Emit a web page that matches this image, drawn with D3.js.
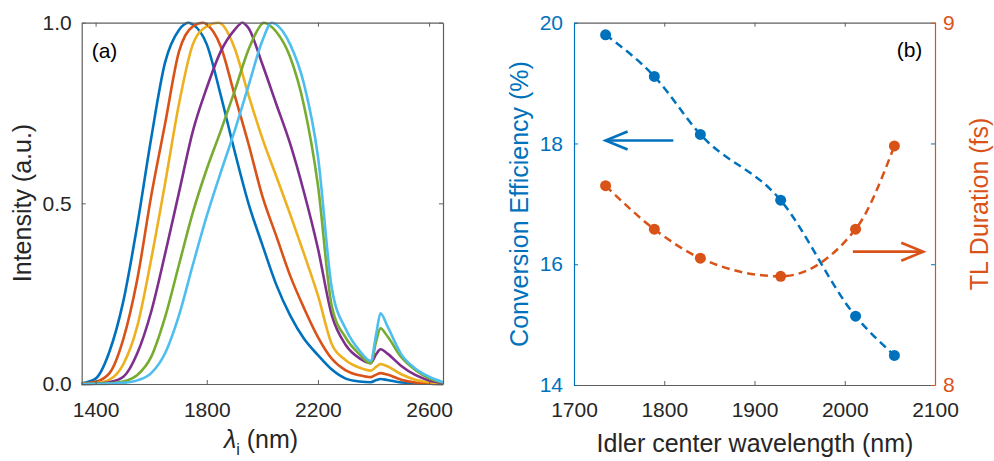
<!DOCTYPE html>
<meta charset="utf-8">
<script src="https://d3js.org/d3.v7.min.js"></script>
<style>
  body { margin: 0; background: #fff; }
  text { font-family: "Liberation Sans", Arial, sans-serif; }
</style>
<div id="chart"></div>
<script>

// ---- panel (a): idler spectra ----
var wavelengths = [1350, 1400, 1450, 1500, 1550, 1600, 1650, 1700, 1750, 1800, 1850, 1900, 1950, 2000,
    2050, 2100, 2150, 2200, 2250, 2300, 2350, 2390, 2410, 2425, 2450, 2500, 2550, 2600, 2650];
var peakWavelengths = [1734, 1788, 1842, 1928, 2004, 2034];

var idler1735 = [0.002, 0.015, 0.09, 0.23, 0.44, 0.68, 0.89, 0.98, 0.995, 0.94, 0.80, 0.645, 0.50, 0.385,
    0.275, 0.19, 0.125, 0.08, 0.04, 0.015, 0.007, 0.005, 0.011, 0.014, 0.011, 0.004, 0.002, 0.001, 0];
var idler1790 = [0.001, 0.006, 0.03, 0.125, 0.29, 0.52, 0.72, 0.92, 0.99, 0.995, 0.935, 0.80, 0.665, 0.52,
    0.41, 0.30, 0.21, 0.13, 0.07, 0.038, 0.024, 0.019, 0.026, 0.03, 0.026, 0.012, 0.004, 0.001, 0];
var idler1840 = [0, 0.002, 0.012, 0.055, 0.16, 0.345, 0.555, 0.775, 0.94, 0.99, 0.998, 0.93, 0.80, 0.68,
    0.575, 0.47, 0.36, 0.245, 0.11, 0.066, 0.045, 0.037, 0.048, 0.055, 0.049, 0.027, 0.012, 0.005, 0.001];
var idler1928 = [0, 0.001, 0.005, 0.02, 0.085, 0.2, 0.36, 0.53, 0.70, 0.82, 0.92, 0.98, 0.985, 0.885,
    0.775, 0.665, 0.53, 0.375, 0.19, 0.108, 0.071, 0.058, 0.083, 0.096, 0.084, 0.05, 0.025, 0.01, 0.003];
var idler2012 = [0, 0.001, 0.002, 0.007, 0.025, 0.075, 0.185, 0.33, 0.475, 0.595, 0.70, 0.81, 0.925, 0.998,
    0.975, 0.905, 0.77, 0.55, 0.215, 0.128, 0.082, 0.057, 0.12, 0.154, 0.132, 0.074, 0.039, 0.016, 0.004];
var idler2055 = [0, 0, 0.001, 0.003, 0.01, 0.03, 0.085, 0.19, 0.33, 0.465, 0.585, 0.70, 0.825, 0.95,
    0.995, 0.94, 0.83, 0.63, 0.265, 0.152, 0.092, 0.064, 0.14, 0.196, 0.16, 0.082, 0.043, 0.02, 0.005];

var spectraX = [1400, 1800, 2200, 2600];
var spectraY = [0, 0.5, 1];

// ---- panel (b): efficiency and TL duration ----
var idlerCenters = [1735, 1789, 1840, 1929, 2012, 2055];
var efficiency = [19.8, 19.11, 18.15, 17.06, 15.14, 14.49];
var tlDuration = [8.55, 8.43, 8.35, 8.30, 8.43, 8.66];

var centerTicks = [1700, 1800, 1900, 2000, 2100];
var effTicks = [14, 16, 18, 20];
var tlTicks = [8, 9];

var colors = ["#0072BD", "#D95319", "#EDB120", "#7E2F8E", "#77AC30", "#4DBEEE"];
var ink = "#262626", boxColor = "#5f5f5f";

var svg = d3.select("#chart").append("svg")
    .attr("width", 994)
    .attr("height", 461);

function styleAxis(g, color, size) {
    g.attr("font-family", null).attr("font-size", null).attr("color", color);
    g.selectAll("text").attr("font-size", size).attr("fill", color);
    g.select(".domain").attr("stroke-width", 1.2);
}

// ================= panel (a) =================
var A = { left: 81.7, top: 22.7, width: 361.3, height: 361.3 };
var gA = svg.append("g").attr("transform", "translate(" + A.left + "," + A.top + ")");

var xA = d3.scaleLinear().domain([1350, 2650]).range([0, A.width]);
var yA = d3.scaleLinear().domain([0, 1]).range([A.height, 0]);

var spectra = [idler1735, idler1790, idler1840, idler1928, idler2012, idler2055];
var line = d3.line()
    .x(function (d) { return xA(d[0]); })
    .y(function (d) { return yA(d[1]); })
    .curve(d3.curveMonotoneX);

spectra.forEach(function (vals, i) {
    var pts = wavelengths.map(function (w, j) { return [w, vals[j]]; });
    pts.push([peakWavelengths[i], 1]);
    pts.sort(function (a, b) { return a[0] - b[0]; });
    gA.append("path")
        .datum(pts)
        .attr("fill", "none")
        .attr("stroke", colors[i])
        .attr("stroke-width", 2.6)
        .attr("d", line);
});

gA.append("g").attr("transform", "translate(0," + A.height + ")")
    .call(d3.axisBottom(xA).tickValues(spectraX).tickSize(-4).tickSizeOuter(0).tickPadding(17.8).tickFormat(d3.format("d")))
    .call(styleAxis, boxColor, 21);
gA.append("g")
    .call(d3.axisTop(xA).tickValues(spectraX).tickSize(-4).tickSizeOuter(0).tickFormat(""))
    .call(styleAxis, boxColor, 21);
gA.append("g")
    .call(d3.axisLeft(yA).tickValues(spectraY).tickSize(-4).tickSizeOuter(0).tickPadding(10).tickFormat(d3.format(".1f")))
    .call(styleAxis, boxColor, 21);
gA.append("g").attr("transform", "translate(" + A.width + ",0)")
    .call(d3.axisRight(yA).tickValues(spectraY).tickSize(-4).tickSizeOuter(0).tickFormat(""))
    .call(styleAxis, boxColor, 21);
gA.selectAll("text").attr("fill", ink);

gA.append("text")
    .attr("x", 10).attr("y", 35)
    .attr("font-size", 21).attr("fill", "#000")
    .text("(a)");

svg.append("text")
    .attr("transform", "translate(31,203) rotate(-90)")
    .attr("text-anchor", "middle")
    .attr("font-size", 25).attr("fill", ink)
    .text("Intensity (a.u.)");

var xlabA = svg.append("text")
    .attr("x", 261).attr("y", 448)
    .attr("text-anchor", "middle")
    .attr("font-size", 25).attr("fill", ink);
xlabA.append("tspan").attr("font-style", "italic").text("λ");
xlabA.append("tspan").attr("font-size", 16).attr("dy", 7).text("i");
xlabA.append("tspan").attr("dy", -7).text(" (nm)");

// ================= panel (b) =================
var B = { left: 574, top: 22.7, width: 361, height: 362.3 };
var gB = svg.append("g").attr("transform", "translate(" + B.left + "," + B.top + ")");

var xB = d3.scaleLinear().domain([1700, 2100]).range([0, B.width]);
var yEff = d3.scaleLinear().domain([14, 20]).range([B.height, 0]);
var yTL = d3.scaleLinear().domain([8, 9]).range([B.height, 0]);

gB.append("g").attr("transform", "translate(0," + B.height + ")")
    .call(d3.axisBottom(xB).tickValues(centerTicks).tickSize(-4).tickSizeOuter(0).tickPadding(16.8).tickFormat(d3.format("d")))
    .call(styleAxis, boxColor, 21);
gB.append("g")
    .call(d3.axisTop(xB).tickValues(centerTicks).tickSize(-4).tickSizeOuter(0).tickFormat(""))
    .call(styleAxis, boxColor, 21);
gB.selectAll("text").attr("fill", ink);
gB.append("g")
    .call(d3.axisLeft(yEff).tickValues(effTicks).tickSize(-4).tickSizeOuter(0).tickPadding(11).tickFormat(d3.format("d")))
    .call(styleAxis, colors[0], 21);
// mirrored efficiency ticks on the right edge
gB.append("g").attr("transform", "translate(" + B.width + ",0)")
    .call(d3.axisLeft(yEff).tickValues([16, 18]).tickSize(4).tickSizeOuter(0).tickFormat(""))
    .call(function (g) { g.select(".domain").remove(); g.attr("color", colors[0]); });
gB.append("g").attr("transform", "translate(" + B.width + ",0)")
    .call(d3.axisRight(yTL).tickValues(tlTicks).tickSize(-4).tickSizeOuter(0).tickPadding(8).tickFormat(d3.format("d")))
    .call(styleAxis, colors[1], 21);

var effLine = d3.line()
    .x(function (d, i) { return xB(idlerCenters[i]); })
    .y(function (d) { return yEff(d); })
    .curve(d3.curveMonotoneX);
var tlLine = d3.line()
    .x(function (d, i) { return xB(idlerCenters[i]); })
    .y(function (d) { return yTL(d); })
    .curve(d3.curveMonotoneX);

gB.append("path").datum(efficiency)
    .attr("fill", "none").attr("stroke", colors[0])
    .attr("stroke-width", 2.5).attr("stroke-dasharray", "8,5")
    .attr("d", effLine);
gB.append("path").datum(tlDuration)
    .attr("fill", "none").attr("stroke", colors[1])
    .attr("stroke-width", 2.5).attr("stroke-dasharray", "8,5")
    .attr("d", tlLine);

gB.selectAll("circle.eff").data(efficiency).enter().append("circle")
    .attr("class", "eff")
    .attr("cx", function (d, i) { return xB(idlerCenters[i]); })
    .attr("cy", function (d) { return yEff(d); })
    .attr("r", 5.5).attr("fill", colors[0]);
gB.selectAll("circle.tl").data(tlDuration).enter().append("circle")
    .attr("class", "tl")
    .attr("cx", function (d, i) { return xB(idlerCenters[i]); })
    .attr("cy", function (d) { return yTL(d); })
    .attr("r", 5.5).attr("fill", colors[1]);

// arrows pointing to the axis each series belongs to
function arrow(x0, x1, y, color) {
    var dir = x1 > x0 ? 1 : -1;
    gB.append("line")
        .attr("x1", x0).attr("x2", x1 - dir * 1.5).attr("y1", y).attr("y2", y)
        .attr("stroke", color).attr("stroke-width", 2.6);
    gB.append("path")
        .attr("d", "M" + (x1 - dir * 22) + "," + (y - 9) + "L" + x1 + "," + y + "L" + (x1 - dir * 22) + "," + (y + 9))
        .attr("fill", "none").attr("stroke", color).attr("stroke-width", 2.6)
        .attr("stroke-linejoin", "miter");
}
arrow(xB(1810), xB(1735), yEff(18.05), colors[0]);
arrow(xB(2009), xB(2087), yTL(8.368), colors[1]);

gB.append("text")
    .attr("x", 322.7).attr("y", 34)
    .attr("font-size", 21).attr("fill", "#000")
    .text("(b)");

svg.append("text")
    .attr("transform", "translate(528,204) rotate(-90)")
    .attr("text-anchor", "middle")
    .attr("font-size", 25).attr("fill", colors[0])
    .text("Conversion Efficiency (%)");
svg.append("text")
    .attr("transform", "translate(988,204) rotate(-90)")
    .attr("text-anchor", "middle")
    .attr("font-size", 25).attr("fill", colors[1])
    .text("TL Duration (fs)");
svg.append("text")
    .attr("x", 755).attr("y", 451.7)
    .attr("text-anchor", "middle")
    .attr("font-size", 25).attr("fill", ink)
    .text("Idler center wavelength (nm)");

</script>
